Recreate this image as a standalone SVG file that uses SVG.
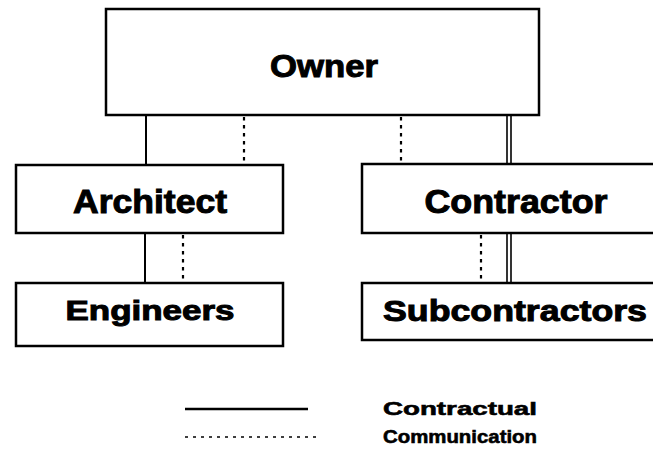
<svg xmlns="http://www.w3.org/2000/svg" width="653" height="465" viewBox="0 0 653 465">
<style>
.box{fill:#fff;stroke:#000;stroke-width:2.5}
.lbl{font-family:"Liberation Sans",Arial,sans-serif;font-weight:bold;fill:#000;stroke:#000;stroke-width:1;text-anchor:middle}
.leg{font-family:"Liberation Sans",Arial,sans-serif;font-weight:bold;fill:#000;stroke:#000;stroke-width:0.6}
.solid{stroke:#000;stroke-width:2;fill:none}
.dot{stroke:#000;stroke-width:2.2;stroke-dasharray:3.5 4.5;fill:none}
.dbl{stroke:#000;stroke-width:1.6;fill:none}
</style>
<rect width="653" height="465" fill="#fff"/>
<g id="connectors">
<line class="solid" x1="146" y1="115" x2="146" y2="165"/>
<line class="dot" x1="244" y1="117" x2="244" y2="164"/>
<line class="dot" x1="401" y1="117" x2="401" y2="164"/>
<line class="dbl" x1="507" y1="115" x2="507" y2="164"/>
<line class="dbl" x1="511" y1="115" x2="511" y2="164"/>
<line class="solid" x1="145" y1="233" x2="145" y2="283"/>
<line class="dot" x1="183" y1="235" x2="183" y2="282"/>
<line class="dot" x1="481" y1="235" x2="481" y2="282"/>
<line class="dbl" x1="507" y1="233" x2="507" y2="283"/>
<line class="dbl" x1="511" y1="233" x2="511" y2="283"/>
</g>
<g id="owner">
<rect class="box" x="106" y="9" width="433" height="106"/>
<text class="lbl" x="324" y="77" font-size="32" textLength="108" lengthAdjust="spacingAndGlyphs">Owner</text>
</g>
<g id="architect">
<rect class="box" x="16" y="165" width="267" height="68"/>
<text class="lbl" x="150" y="213" font-size="33" textLength="154" lengthAdjust="spacingAndGlyphs">Architect</text>
</g>
<g id="contractor">
<rect class="box" x="362" y="164" width="295" height="69"/>
<text class="lbl" x="516" y="213" font-size="33" textLength="183" lengthAdjust="spacingAndGlyphs">Contractor</text>
</g>
<g id="engineers">
<rect class="box" x="16" y="283" width="267" height="63"/>
<text class="lbl" x="150" y="320" font-size="28" textLength="169" lengthAdjust="spacingAndGlyphs">Engineers</text>
</g>
<g id="subcontractors">
<rect class="box" x="362" y="283" width="295" height="57"/>
<text class="lbl" x="515" y="321" font-size="30" textLength="264" lengthAdjust="spacingAndGlyphs">Subcontractors</text>
</g>
<g id="legend">
<line x1="185" y1="409" x2="308" y2="409" stroke="#000" stroke-width="2.5"/>
<line x1="185" y1="437" x2="316" y2="437" stroke="#000" stroke-width="1.5" stroke-dasharray="3 5"/>
<text class="leg" x="383" y="415" font-size="19" textLength="154" lengthAdjust="spacingAndGlyphs">Contractual</text>
<text class="leg" x="383" y="443" font-size="19" textLength="154" lengthAdjust="spacingAndGlyphs">Communication</text>
</g>
</svg>
